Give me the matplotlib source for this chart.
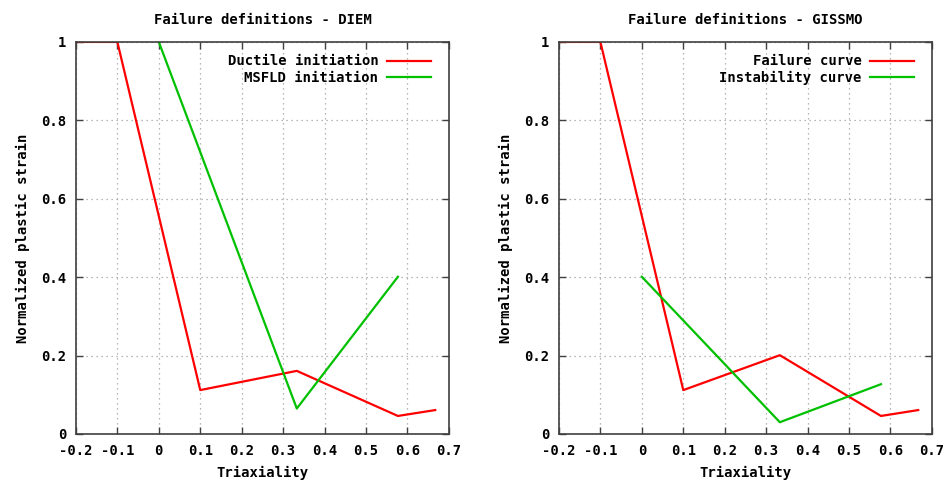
import matplotlib
matplotlib.use('Agg')
from matplotlib import pyplot as plt
from matplotlib.ticker import FuncFormatter, MultipleLocator

# Data
triax_fail = [-0.2, -0.1, 0.1, 0.333, 0.577, 0.667]
diem_ductile = [1.0, 1.0, 0.112, 0.161, 0.046, 0.061]
gissmo_failure = [1.0, 1.0, 0.112, 0.201, 0.046, 0.061]

triax_inst = [0.0, 0.333, 0.577]
diem_msfld = [1.0, 0.065, 0.401]
gissmo_instab = [0.401, 0.030, 0.127]

titles = ['Failure definitions - DIEM', 'Failure definitions - GISSMO']
labels = [('Ductile initiation', 'MSFLD initiation'),
          ('Failure curve', 'Instability curve')]

plt.rcParams['font.family'] = 'DejaVu Sans Mono'
plt.rcParams['font.weight'] = 'bold'
plt.rcParams['font.size'] = 10

fmt = FuncFormatter(lambda v, p: '%g' % round(v, 3))

fig = plt.figure(figsize=(9.49, 4.82), dpi=100)
ax1 = fig.add_axes([0.080, 0.0996, 0.393, 0.8134])
ax2 = fig.add_axes([0.589, 0.0996, 0.393, 0.8134])

series = [(diem_ductile, diem_msfld), (gissmo_failure, gissmo_instab)]
for ax, title, (lab_r, lab_g), (yr, yg) in zip([ax1, ax2], titles, labels, series):
    ax.plot(triax_fail, yr, color='#ff0000', lw=1.6, label=lab_r)
    ax.plot(triax_inst, yg, color='#00c000', lw=1.6, label=lab_g)
    ax.set_xlim(-0.2, 0.7)
    ax.set_ylim(0, 1)
    ax.xaxis.set_major_locator(MultipleLocator(0.1))
    ax.yaxis.set_major_locator(MultipleLocator(0.2))
    ax.xaxis.set_major_formatter(fmt)
    ax.yaxis.set_major_formatter(fmt)
    ax.grid(True, color='#a0a0a0', linestyle=(0, (1, 3)), lw=0.9)
    ax.tick_params(direction='in', length=5, width=1, top=True, right=True,
                   color='#404040', pad=7)
    for s in ax.spines.values():
        s.set_color('#404040')
        s.set_linewidth(1.2)
    ax.set_title(title, fontweight='bold', fontsize=10, pad=13)
    ax.set_xlabel('Triaxiality', fontweight='bold', labelpad=6)
    ax.set_ylabel('Normalized plastic strain', fontweight='bold', labelpad=8)
    leg = ax.legend(loc='upper right', frameon=False, markerfirst=False,
                    handlelength=3.2, handletextpad=0.6, labelspacing=0.15,
                    borderaxespad=0.5, bbox_to_anchor=(0.986, 1.0))

fig.savefig('out.png', dpi=100)
